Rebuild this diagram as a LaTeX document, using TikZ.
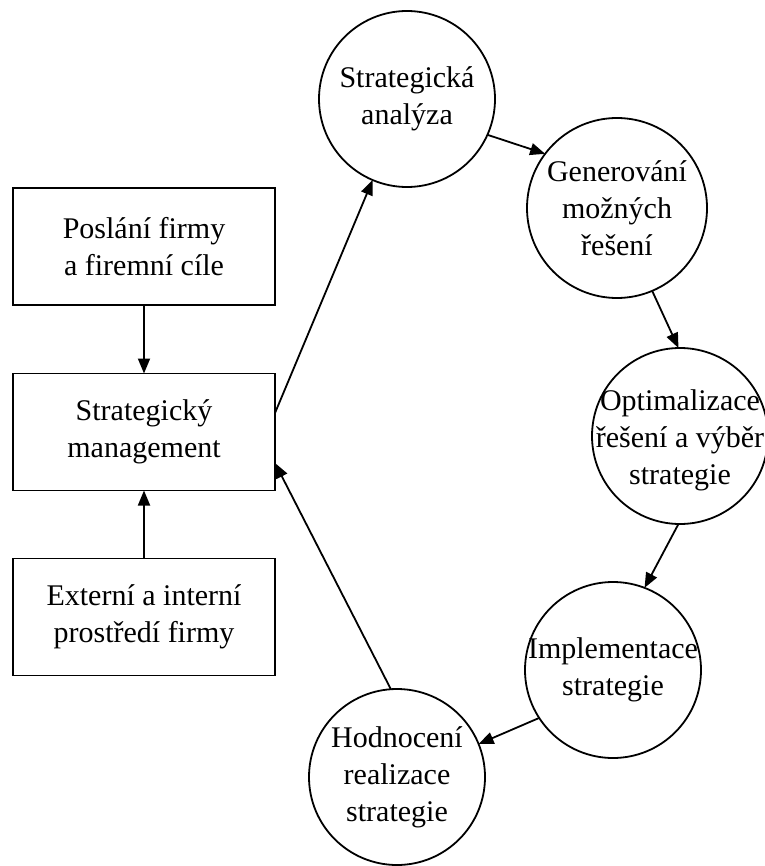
\documentclass[tikz,border=0pt]{standalone}
\usepackage{fontspec}
\setmainfont{Liberation Serif}
\usetikzlibrary{arrows.meta}
\begin{document}
\begin{tikzpicture}[x=1pt,y=-1pt,
  every node/.style={font=\fontsize{30}{37}\selectfont, align=center, inner sep=0pt, outer sep=0pt},
  box/.style={draw, line width=1.8pt, minimum width=262pt, minimum height=117pt},
  ring/.style={draw, circle, line width=1.8pt, minimum size=176pt},
  link/.style={line width=1.8pt, -{Triangle[length=15pt,width=12pt]}},
]
\useasboundingbox (0,0) rectangle (764,866);

% left column of boxes
\node[box] (b1) at (144,246.5) {Poslání firmy\\a firemní cíle};
\node[box] (b2) at (144,432) {Strategický\\management};
\node[box] (b3) at (144,617) {Externí a interní\\prostředí firmy};

% cycle of circles
\node[ring] (c1) at (407,99) {};
\node (t1) at (c1) {Strategická\\analýza};
\node[ring, minimum size=180pt] (c2) at (617,208) {};
\node (t2) at (c2) {Generování\\možných\\řešení};
\node[ring] (c3) at (680,436) {};
\node (t3) at ([yshift=-4pt]c3.center) {Optimalizace\\řešení a výběr\\strategie};
\node[ring] (c4) at (613,670) {};
\node (t4) at (c4) {Implementace\\strategie};
\node[ring] (c5) at (397,777) {};
\node (t5) at (c5) {Hodnocení\\realizace\\strategie};

% connectors
\draw[link] (b1) -- (b2);
\draw[link] (b3) -- (b2);
\draw[link] ([yshift=19pt]b2.east) -- (c1.247);
\draw[link] (c1.-24) -- (c2.143);
\draw[link] (c2.-67) -- (c3.91);
\draw[link] (c3.-91) -- (c4.69);
\draw[link] (c4.213) -- (c5.22);
\draw[link] (c5.94) -- ([yshift=-31pt]b2.east);
\end{tikzpicture}
\end{document}
